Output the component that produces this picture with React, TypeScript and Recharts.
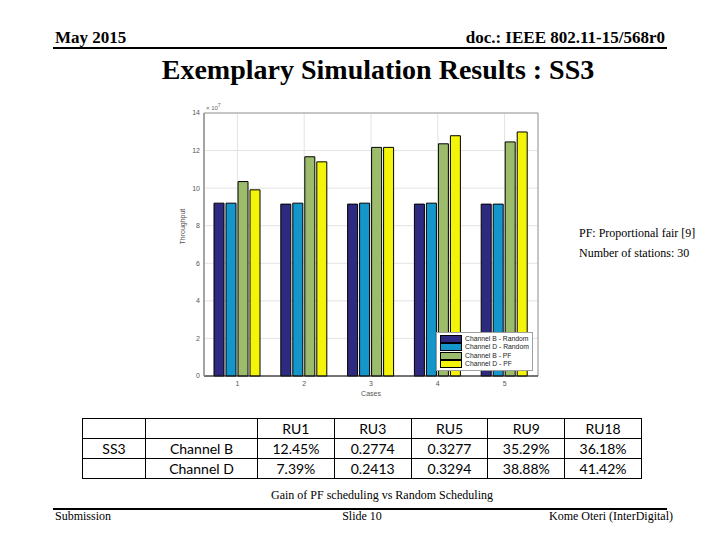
import React from 'react';
import { BarChart, Bar, XAxis, YAxis, CartesianGrid, Legend, ReferenceArea } from 'recharts';

// throughput per case, in units of 10^7
const cases = ['1', '2', '3', '4', '5'];
const channelBRandom = [9.2, 9.15, 9.15, 9.15, 9.15];
const channelDRandom = [9.2, 9.2, 9.2, 9.2, 9.15];
const channelBPF = [10.35, 11.67, 12.17, 12.36, 12.46];
const channelDPF = [9.91, 11.4, 12.17, 12.79, 12.99];
const yTicks = [0, 2, 4, 6, 8, 10, 12, 14];

// gain table
const ruHeaders = ['RU1', 'RU3', 'RU5', 'RU9', 'RU18'];
const channelBGain = ['12.45%', '0.2774', '0.3277', '35.29%', '36.18%'];
const channelDGain = ['7.39%', '0.2413', '0.3294', '38.88%', '41.42%'];

const series = [
  { key: 'bRandom', name: 'Channel B - Random', color: '#2E2A7F' },
  { key: 'dRandom', name: 'Channel D - Random', color: '#1596CA' },
  { key: 'bPF', name: 'Channel B - PF', color: '#9CBB6B' },
  { key: 'dPF', name: 'Channel D - PF', color: '#F4F40A' },
];

const data = cases.map((name, i) => ({
  name,
  bRandom: channelBRandom[i],
  dRandom: channelDRandom[i],
  bPF: channelBPF[i],
  dPF: channelDPF[i],
}));

const serif = '"Liberation Serif", "Times New Roman", serif';
const sans = '"Liberation Sans", Arial, sans-serif';

const renderLegend = () => (
  <div style={{ background: '#fff', border: '1px solid #a0a0a0', padding: '2px 3px', fontFamily: sans, fontSize: 6.8, lineHeight: '8.3px', whiteSpace: 'nowrap' }}>
    {series.map(s => (
      <div key={s.key} style={{ display: 'flex', alignItems: 'center', color: '#222' }}>
        <span style={{ display: 'inline-block', width: 20, height: 6, background: s.color, border: '1px solid #000', marginRight: 3 }} />
        <span style={{ color: '#222' }}>{s.name}</span>
      </div>
    ))}
  </div>
);

const cell: React.CSSProperties = { border: '1px solid #000', padding: 0, textAlign: 'center', height: 19 };

export default function App() {
  return (
    <div style={{ position: 'absolute', left: 0, top: 0, width: 720, height: 540, background: '#fff', overflow: 'hidden' }}>
      <div style={{ position: 'absolute', left: 55, top: 28, fontFamily: serif, fontWeight: 'bold', fontSize: 17 }}>May 2015</div>
      <div style={{ position: 'absolute', right: 55, top: 28, fontFamily: serif, fontWeight: 'bold', fontSize: 17 }}>doc.: IEEE 802.11-15/568r0</div>
      <div style={{ position: 'absolute', left: 53, top: 47, width: 614, height: 2, background: '#000' }} />
      <div style={{ position: 'absolute', left: 0, width: 756, top: 54, textAlign: 'center', fontFamily: serif, fontWeight: 'bold', fontSize: 28 }}>
        Exemplary Simulation Results : SS3
      </div>

      <div style={{ position: 'absolute', left: 150, top: 95 }}>
        <BarChart width={400} height={310} data={data} margin={{ top: 18, right: 12, left: 24, bottom: 9 }} barGap={2} barSize={10}>
          <CartesianGrid stroke="#e3e3e3" />
          <XAxis
            dataKey="name"
            height={20}
            tickLine={false}
            tickSize={0}
            axisLine={{ stroke: '#222' }}
            tick={{ fontSize: 7, fill: '#555', fontFamily: sans }}
            tickMargin={5}
            label={{ value: 'Cases', position: 'insideBottom', offset: 0, fontSize: 7, fill: '#555', fontFamily: sans }}
          />
          <YAxis
            width={30}
            domain={[0, 14]}
            ticks={yTicks}
            tickLine={false}
            tickSize={0}
            axisLine={{ stroke: '#999', strokeWidth: 1.5 }}
            tick={{ fontSize: 7, fill: '#555', fontFamily: sans }}
            tickMargin={4}
            label={{ value: 'Throughput', angle: -90, position: 'insideLeft', offset: 9, fontSize: 7, fill: '#555', fontFamily: sans }}
          />
          <ReferenceArea x1="1" x2="5" y1={0} y2={14} fill="none" stroke="#999" ifOverflow="visible" />
          <Legend layout="vertical" align="center" verticalAlign="middle" content={renderLegend}
            wrapperStyle={{ position: 'absolute', left: 286, top: 237, width: 'auto', height: 'auto' }} />
          {series.map(s => (
            <Bar key={s.key} dataKey={s.key} name={s.name} fill={s.color} stroke="#000" strokeWidth={1} isAnimationActive={false} />
          ))}
        </BarChart>
      </div>
      <div style={{ position: 'absolute', left: 206, top: 102, fontFamily: sans, fontSize: 6, color: '#666' }}>
        × 10<sup style={{ fontSize: 5 }}>7</sup>
      </div>

      <div style={{ position: 'absolute', left: 579, top: 226, fontFamily: serif, fontSize: 12 }}>PF: Proportional fair [9]</div>
      <div style={{ position: 'absolute', left: 579, top: 246, fontFamily: serif, fontSize: 12 }}>Number of stations: 30</div>

      <table style={{ position: 'absolute', left: 82, top: 418, borderCollapse: 'collapse', fontFamily: 'Lato, "Open Sans", sans-serif', fontSize: 14, tableLayout: 'fixed', width: 559 }}>
        <colgroup>
          <col style={{ width: 63 }} />
          <col style={{ width: 112 }} />
          {ruHeaders.map(h => <col key={h} style={{ width: 76.8 }} />)}
        </colgroup>
        <tbody>
          <tr>
            <td style={cell}></td>
            <td style={cell}></td>
            {ruHeaders.map(h => <td key={h} style={cell}>{h}</td>)}
          </tr>
          <tr>
            <td style={cell}>SS3</td>
            <td style={cell}>Channel B</td>
            {channelBGain.map((v, i) => <td key={i} style={cell}>{v}</td>)}
          </tr>
          <tr>
            <td style={cell}></td>
            <td style={cell}>Channel D</td>
            {channelDGain.map((v, i) => <td key={i} style={cell}>{v}</td>)}
          </tr>
        </tbody>
      </table>

      <div style={{ position: 'absolute', left: 0, width: 764, top: 488, textAlign: 'center', fontFamily: serif, fontSize: 12 }}>
        Gain of PF scheduling vs Random Scheduling
      </div>
      <div style={{ position: 'absolute', left: 53, top: 508, width: 614, height: 2, background: '#000' }} />
      <div style={{ position: 'absolute', left: 55, top: 509, fontFamily: serif, fontSize: 12 }}>Submission</div>
      <div style={{ position: 'absolute', left: 0, width: 724, top: 509, textAlign: 'center', fontFamily: serif, fontSize: 12 }}>Slide 10</div>
      <div style={{ position: 'absolute', right: 47, top: 509, fontFamily: serif, fontSize: 12 }}>Kome Oteri (InterDigital)</div>
    </div>
  );
}
